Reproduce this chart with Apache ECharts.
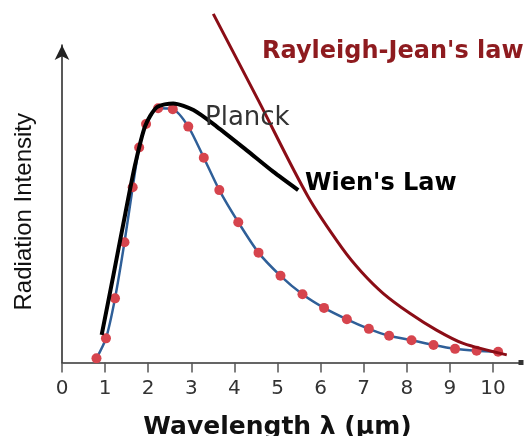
<!DOCTYPE html>
<html>
<head>
<meta charset="utf-8">
<script src="https://cdn.jsdelivr.net/npm/echarts@6/dist/echarts.min.js"></script>
<style>
  html, body { margin: 0; padding: 0; background: #fff; }
  #chart { width: 529px; height: 436px; }
</style>
</head>
<body>
<div id="chart"></div>
<script>
// tick labels on the wavelength axis
const xTicks = [0, 1, 2, 3, 4, 5, 6, 7, 8, 9, 10];

// measured curve (blue line with red dots)
const dotX = [0.80, 1.02, 1.23, 1.45, 1.64, 1.79, 1.95, 2.23, 2.57, 2.93, 3.29, 3.65, 4.09,
              4.56, 5.07, 5.58, 6.08, 6.61, 7.12, 7.59, 8.11, 8.62, 9.12, 9.62, 10.12];
const dotY = [1.3, 7.6, 20.2, 37.9, 55.2, 67.7, 75.1, 80.1, 79.8, 74.3, 64.5, 54.3, 44.2,
              34.6, 27.3, 21.5, 17.2, 13.6, 10.6, 8.4, 7.0, 5.5, 4.3, 3.7, 3.4];

// Planck curve (black)
const planckX = [0.92, 1.20, 1.47, 1.70, 1.93, 2.20, 2.58, 3.05, 3.59, 4.28, 4.90, 5.48];
const planckY = [8.7, 28.0, 47.0, 62.5, 74.5, 80.4, 81.6, 79.5, 74.3, 66.9, 60.1, 54.3];

// Rayleigh-Jeans curve (dark red)
const rayleighX = [3.51, 4.55, 5.71, 6.50, 6.95, 7.45, 8.07, 8.69, 9.31, 10.32];
const rayleighY = [109.8, 82.7, 52.2, 36.0, 28.5, 21.8, 15.5, 10.2, 6.0, 2.4];

function pairs(xs, ys) {
  return xs.map((x, i) => [x, ys[i]]);
}

const chart = echarts.init(document.getElementById('chart'));

chart.setOption({
  animation: false,
  backgroundColor: '#fff',
  grid: { left: 62, right: 8, top: 45, bottom: 73.5, containLabel: false, outerBoundsMode: 'none' },
  xAxis: {
    type: 'value',
    min: 0,
    max: 10.65,
    interval: 1,
    name: 'Wavelength λ (μm)',
    nameLocation: 'middle',
    nameGap: 52,
    nameTextStyle: {
      fontFamily: 'DejaVu Sans', fontWeight: 'bold', fontSize: 25, color: '#111',
      padding: [0, 28, 0, 0]
    },
    axisLine: {
      show: true,
      lineStyle: { color: '#333', width: 1.5 },
      symbol: ['none', 'rect'],
      symbolSize: [5, 5]
    },
    axisTick: { show: true, length: 10, customValues: xTicks, lineStyle: { color: '#555', width: 1.5 } },
    axisLabel: {
      customValues: xTicks,
      margin: 16,
      fontFamily: 'DejaVu Sans', fontSize: 20, color: '#333'
    },
    splitLine: { show: false }
  },
  yAxis: {
    type: 'value',
    min: 0,
    max: 100,
    name: 'Radiation Intensity',
    nameLocation: 'middle',
    nameRotate: 90,
    nameGap: 26,
    nameTextStyle: {
      fontFamily: 'Liberation Sans', fontSize: 24, color: '#111',
      padding: [0, 16, 0, 0]
    },
    axisLine: {
      show: true,
      lineStyle: { color: '#222', width: 1.5 },
      symbol: ['none', 'arrow'],
      symbolSize: [11, 15]
    },
    axisTick: { show: false },
    axisLabel: { show: false },
    splitLine: { show: false }
  },
  series: [
    {
      name: 'data',
      type: 'line',
      data: pairs(dotX, dotY),
      smooth: 0.25,
      symbol: 'circle',
      symbolSize: 10,
      showAllSymbol: true,
      lineStyle: { color: '#2f5f98', width: 2.5 },
      itemStyle: { color: '#d6444d', borderWidth: 0 },
      z: 2
    },
    {
      name: 'Planck',
      type: 'line',
      data: pairs(planckX, planckY),
      smooth: 0.25,
      showSymbol: false,
      lineStyle: { color: '#000', width: 4 },
      z: 3
    },
    {
      name: 'Rayleigh-Jeans',
      type: 'line',
      data: pairs(rayleighX, rayleighY),
      smooth: 0.3,
      clip: false,
      showSymbol: false,
      lineStyle: { color: '#8b0d16', width: 3 },
      z: 4
    }
  ],
  graphic: [
    {
      type: 'text', left: 262, top: 40, z: 10,
      style: { text: "Rayleigh-Jean's law", fill: '#8e1b1f', font: 'bold 24px "DejaVu Sans"' }
    },
    {
      type: 'text', left: 205, top: 105, z: 10,
      style: { text: 'Planck', fill: '#333', font: '26px "DejaVu Sans"' }
    },
    {
      type: 'text', left: 305, top: 172, z: 10,
      style: { text: "Wien's Law", fill: '#000', font: 'bold 24px "DejaVu Sans"' }
    }
  ]
});
</script>
</body>
</html>
